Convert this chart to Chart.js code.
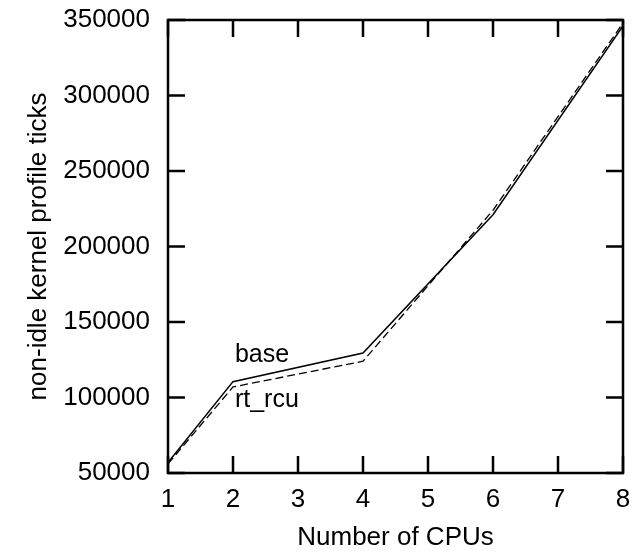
<!DOCTYPE html>
<html>
<head>
<meta charset="utf-8">
<script src="https://cdn.jsdelivr.net/npm/chart.js@4/dist/chart.umd.min.js"></script>
<style>
  html, body { margin: 0; padding: 0; background: #fff; }
  #wrap { width: 637px; height: 553px; }
</style>
</head>
<body>
<div id="wrap"><canvas id="cpuChart"></canvas></div>
<script>
// data
var cpus = [1, 2, 4, 6, 8];
var baseTicks = [57000, 110500, 129500, 221000, 346000];
var rtRcuTicks = [56000, 107000, 124000, 224000, 348000];
var xTicks = [1, 2, 3, 4, 5, 6, 7, 8];
var yTicks = [50000, 100000, 150000, 200000, 250000, 300000, 350000];

var FONT = "'Liberation Sans', Arial, Helvetica, sans-serif";

function toPoints(xs, ys) {
  return xs.map(function (x, i) { return { x: x, y: ys[i] }; });
}

// inner tick marks on all four sides + frame, gnuplot style
var frameTicks = {
  id: 'frameTicks',
  afterDraw: function (chart) {
    var ctx = chart.ctx, a = chart.chartArea;
    var xs = chart.scales.x, ys = chart.scales.y;
    var len = 17;
    ctx.save();
    ctx.strokeStyle = '#000';
    ctx.lineWidth = 2.5;
    ctx.beginPath();
    xTicks.forEach(function (v) {
      var px = xs.getPixelForValue(v);
      ctx.moveTo(px, a.bottom); ctx.lineTo(px, a.bottom - len);
      ctx.moveTo(px, a.top); ctx.lineTo(px, a.top + len);
    });
    yTicks.forEach(function (v) {
      var py = ys.getPixelForValue(v);
      ctx.moveTo(a.left, py); ctx.lineTo(a.left + len, py);
      ctx.moveTo(a.right, py); ctx.lineTo(a.right - len, py);
    });
    ctx.stroke();
    ctx.strokeRect(a.left, a.top, a.right - a.left, a.bottom - a.top);

    // series labels next to the curves
    ctx.fillStyle = '#000';
    ctx.font = '25px ' + FONT;
    ctx.textAlign = 'left';
    ctx.textBaseline = 'alphabetic';
    ctx.fillText('base', xs.getPixelForValue(2.03), ys.getPixelForValue(123500));
    ctx.fillText('rt_rcu', xs.getPixelForValue(2.03), ys.getPixelForValue(93700));
    ctx.restore();
  }
};

var cpuChart = new Chart(document.getElementById('cpuChart'), {
  type: 'line',
  data: {
    datasets: [
      {
        label: 'base',
        data: toPoints(cpus, baseTicks),
        borderColor: '#000',
        borderWidth: 1.5,
        pointRadius: 0,
        tension: 0,
        fill: false
      },
      {
        label: 'rt_rcu',
        data: toPoints(cpus, rtRcuTicks),
        borderColor: '#000',
        borderWidth: 1.3,
        borderDash: [8, 4],
        pointRadius: 0,
        tension: 0,
        fill: false
      }
    ]
  },
  options: {
    responsive: true,
    maintainAspectRatio: false,
    animation: false,
    layout: { padding: { top: 20, right: 14, left: 0, bottom: 0 } },
    plugins: {
      legend: { display: false },
      tooltip: { enabled: false }
    },
    scales: {
      x: {
        type: 'linear',
        min: 1,
        max: 8,
        afterFit: function (s) { s.height = 80; s.paddingLeft = 0; s.paddingRight = 0; },
        afterBuildTicks: function (s) { s.ticks = xTicks.map(function (v) { return { value: v }; }); },
        grid: { display: false, drawTicks: false },
        border: { display: false },
        ticks: { color: '#000', padding: 11, font: { family: FONT, size: 26 } },
        title: {
          display: true,
          text: 'Number of CPUs',
          color: '#000',
          padding: { top: 0, bottom: 0 },
          font: { family: FONT, size: 26 }
        }
      },
      y: {
        min: 50000,
        max: 350000,
        afterFit: function (s) { s.width = 168; s.paddingTop = 0; s.paddingBottom = 0; },
        afterBuildTicks: function (s) { s.ticks = yTicks.map(function (v) { return { value: v }; }); },
        grid: { display: false, drawTicks: false },
        border: { display: false },
        ticks: {
          color: '#000',
          padding: 18,
          font: { family: FONT, size: 26 },
          callback: function (v) { return String(v); }
        },
        title: {
          display: true,
          text: 'non-idle kernel profile ticks',
          color: '#000',
          padding: { top: 23, bottom: 0 },
          font: { family: FONT, size: 26 }
        }
      }
    }
  },
  plugins: [frameTicks]
});
</script>
</body>
</html>
